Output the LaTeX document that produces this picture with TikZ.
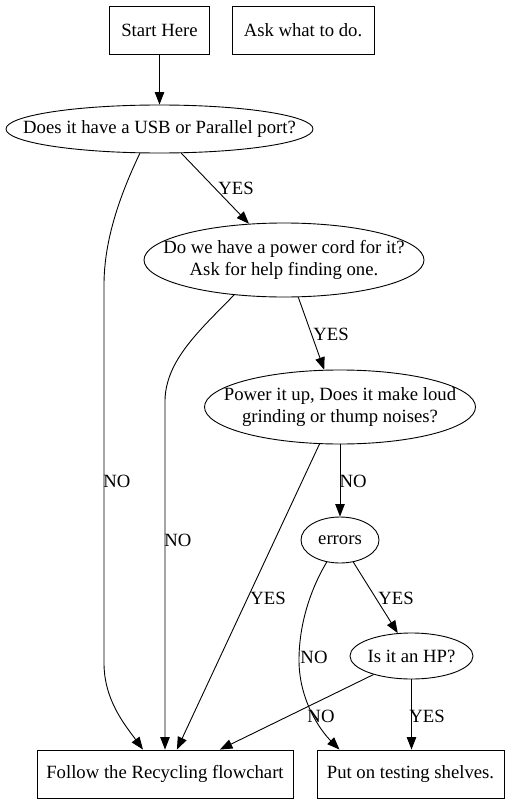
\documentclass[tikz,border=0pt]{standalone}
\usepackage{fontspec}
\setmainfont{Liberation Serif}
\usetikzlibrary{arrows.meta,shapes.geometric}
\begin{document}
\begin{tikzpicture}[x=1bp,y=-1bp,
  every node/.style={font=\fontsize{18.7bp}{22.5bp}\selectfont, inner sep=0pt},
  boxnode/.style={draw, line width=0.9bp, rectangle, minimum height=48bp},
  ellnode/.style={draw, line width=0.9bp, ellipse},
  etext/.style={label={[align=center]center:#1}},
  edge/.style={draw, line width=0.9bp, -{Triangle[length=12.5bp,width=9.5bp]}}]
\fill[white] (0,0) rectangle (509,803);
% nodes
\node[boxnode, minimum width=100bp] (start) at (159.5,30) {Start Here};
\node[boxnode, minimum width=142bp] (ask) at (303,30) {Ask what to do.};
\node[ellnode, minimum width=307bp, minimum height=48bp, etext={Does it have a USB or Parallel port?}] (e1) at (159.5,129) {};
\node[ellnode, minimum width=280bp, minimum height=74bp, etext={Do we have a power cord for it?\\Ask for help finding one.}] (e2) at (284,260) {};
\node[ellnode, minimum width=271bp, minimum height=74bp, etext={Power it up, Does it make loud\\grinding or thump noises?}] (e3) at (340,407) {};
\node[ellnode, minimum width=78bp, minimum height=46bp, etext={errors}] (err) at (340,540) {};
\node[ellnode, minimum width=123bp, minimum height=46bp, etext={Is it an HP?}] (hp) at (411.5,656) {};
\node[boxnode, minimum width=256bp] (follow) at (165,774) {Follow the Recycling flowchart};
\node[boxnode, minimum width=187bp] (put) at (410.5,774) {Put on testing shelves.};
% edges
\draw[edge] (start.south) -- (e1.north);
\draw[edge] (e1.312) -- (e2.134);
\draw[edge] (e1.231) .. controls (120,195) and (104,240) .. (104,285) -- (104,663) .. controls (104,700) and (125,725) .. (follow.132.5);
\draw[edge] (e2.291) -- (e3.113);
\draw[edge] (e2.215) .. controls (200,330) and (166,360) .. (165,400) -- (follow.north);
\draw[edge] (e3.south) -- (err.north);
\draw[edge] (e3.241.6) -- (follow.64);
\draw[edge] (err.301.5) -- (hp.121.3);
\draw[edge] (err.239) .. controls (310,590) and (299,625) .. (299,660) .. controls (299,700) and (320,730) .. (put.161.2);
\draw[edge] (hp.206.4) -- (follow.24.9);
\draw[edge] (hp.south) -- (hp.south |- put.north);
% labels
\node (l1) at (236,188) {YES};
\node (l2) at (117,481) {NO};
\node (l3) at (331,334) {YES};
\node (l4) at (178,540) {NO};
\node (l5) at (353,481) {NO};
\node (l6) at (268,598) {YES};
\node (l7) at (396,598) {YES};
\node (l8) at (314,657) {NO};
\node (l9) at (321,716) {NO};
\node (l10) at (427,716) {YES};
\end{tikzpicture}
\end{document}
